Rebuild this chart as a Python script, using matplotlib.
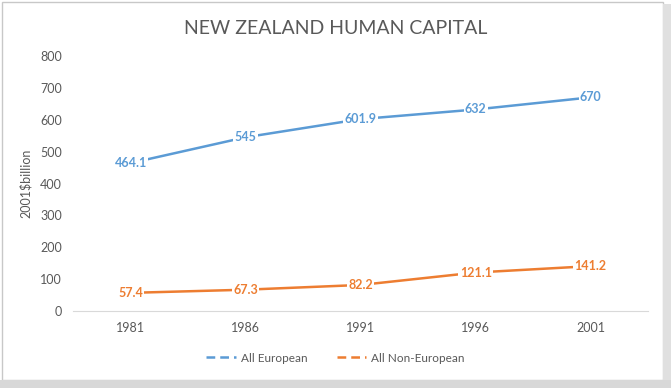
import matplotlib.pyplot as plt
from matplotlib.patches import Rectangle
from matplotlib.lines import Line2D

years = ["1981", "1986", "1991", "1996", "2001"]
european = [464.1, 545, 601.9, 632, 670]
non_european = [57.4, 67.3, 82.2, 121.1, 141.2]
european_labels = ["464.1", "545", "601.9", "632", "670"]
non_european_labels = ["57.4", "67.3", "82.2", "121.1", "141.2"]

blue = "#5b9bd5"
orange = "#ed7d31"
grey = "#595959"

plt.rcParams["font.family"] = ["Lato", "DejaVu Sans"]

fig = plt.figure(figsize=(6.71, 3.88), dpi=100)
ax = fig.add_axes([0.109, 0.198, 0.857, 0.658])

x = list(range(len(years)))
ax.plot(x, european, color=blue, linewidth=1.8, zorder=2)
ax.plot(x, non_european, color=orange, linewidth=1.8, zorder=2)

box = dict(boxstyle="square,pad=0.1", fc="white", ec="none")
for xi, v, s in zip(x, european, european_labels):
    ax.text(xi, v, s, color=blue, fontsize=9, fontweight="bold",
            ha="center", va="center", bbox=box, zorder=3)
for xi, v, s in zip(x, non_european, non_european_labels):
    ax.text(xi, v, s, color=orange, fontsize=9, fontweight="bold",
            ha="center", va="center", bbox=box, zorder=3)

ax.set_xlim(-0.5, 4.5)
ax.set_ylim(0, 800)
ax.set_yticks(range(0, 801, 100))
ax.set_xticks(x)
ax.set_xticklabels(years)
ax.tick_params(length=0, colors=grey, labelsize=9, pad=8)
for side in ["top", "right", "left"]:
    ax.spines[side].set_visible(False)
ax.spines["bottom"].set_color("#d9d9d9")

ax.set_ylabel("2001$billion", color=grey, fontsize=9, labelpad=6)
fig.text(0.5, 0.927, "NEW ZEALAND HUMAN CAPITAL", ha="center", va="center",
         fontsize=14, color=grey, fontweight="normal")

handles = [Line2D([], [], color=blue, lw=1.8, linestyle=(0, (3.5, 2))),
           Line2D([], [], color=orange, lw=1.8, linestyle=(0, (3.5, 2)))]
fig.legend(handles, ["All European", "All Non-European"], loc="center",
           bbox_to_anchor=(0.5, 0.077), ncol=2, frameon=False, fontsize=8.5,
           labelcolor=grey, handlelength=2.5, handletextpad=0.4,
           columnspacing=2.5)

# frame with shadow
fig.patches.append(Rectangle((0.003, 0.02), 0.985, 0.975, transform=fig.transFigure,
                             fill=False, ec="#c8c8c8", lw=1))
fig.patches.append(Rectangle((0.988, 0.0), 0.012, 0.99, transform=fig.transFigure,
                             fc="#e0e0e0", ec="none"))
fig.patches.append(Rectangle((0.0, 0.0), 1.0, 0.02, transform=fig.transFigure,
                             fc="#d8d8d8", ec="none"))

fig.savefig("out.png", dpi=100)
